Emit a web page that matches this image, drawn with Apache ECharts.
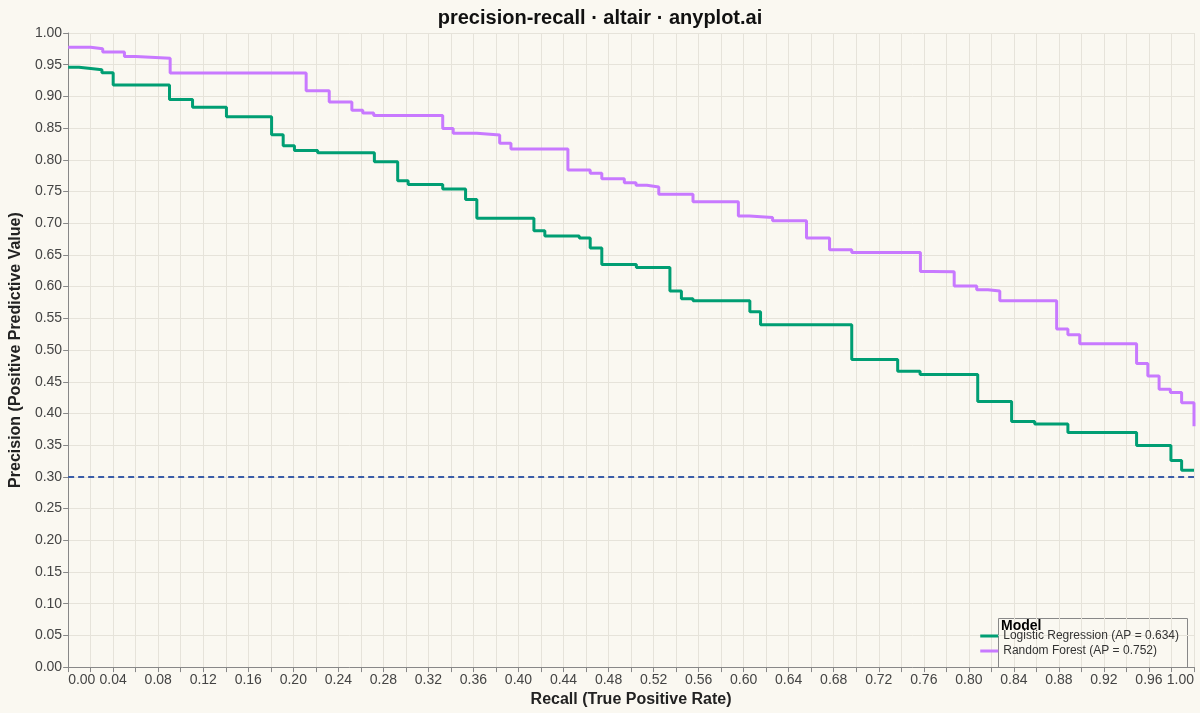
<!DOCTYPE html>
<html><head><meta charset="utf-8">
<script src="https://cdn.jsdelivr.net/npm/echarts@6/dist/echarts.min.js"></script>
<style>html,body{margin:0;padding:0;background:#FAF8F1}#c{width:1200px;height:713px}</style>
</head><body><div id="c"></div>
<script>
const lrRecall = [0,0.0096,0.020,0.030,0.040,0.090,0.1105,0.1406,0.1807,0.191,0.201,0.2216,0.272,0.2927,0.302,0.3327,0.353,0.363,0.4137,0.4234,0.454,0.4637,0.474,0.5047,0.5345,0.5447,0.555,0.6055,0.615,0.696,0.7368,0.7567,0.8079,0.838,0.8585,0.888,0.949,0.9795,0.989,1.0];
const lrPrecision = [0.946,0.944,0.942,0.9375,0.918,0.895,0.883,0.868,0.8396,0.822,0.8146,0.811,0.797,0.767,0.761,0.754,0.7375,0.708,0.688,0.680,0.6766,0.661,0.635,0.630,0.593,0.581,0.5776,0.5604,0.540,0.485,0.4667,0.4615,0.4188,0.3875,0.3833,0.370,0.3495,0.326,0.3104,0.3104];
const rfRecall = [0,0.020,0.0307,0.050,0.060,0.0906,0.2114,0.2319,0.252,0.2617,0.2714,0.3327,0.342,0.363,0.3833,0.3933,0.4439,0.4637,0.474,0.494,0.5044,0.514,0.5246,0.555,0.5953,0.605,0.6257,0.6558,0.6763,0.696,0.757,0.767,0.787,0.807,0.817,0.8275,0.878,0.888,0.8985,0.949,0.959,0.969,0.979,0.989,1.0,1.0];
const rfPrecision = [0.9776,0.975,0.970,0.963,0.960,0.937,0.909,0.891,0.878,0.874,0.870,0.8495,0.842,0.839,0.826,0.817,0.784,0.779,0.770,0.764,0.760,0.757,0.7458,0.734,0.7115,0.709,0.704,0.6766,0.6583,0.654,0.624,0.6234,0.601,0.595,0.593,0.5776,0.533,0.524,0.510,0.4786,0.459,0.438,0.433,0.417,0.417,0.380];
const baseline = 0.30;
const seriesNames = ['Logistic Regression (AP = 0.634)','Random Forest (AP = 0.752)'];
const zip = (a,b)=>a.map((v,i)=>[v,b[i]]);
const chart = echarts.init(document.getElementById('c'));
const font = 'Liberation Sans, Arial, sans-serif';
chart.setOption({
  backgroundColor:'#FAF8F1',
  animation:false,
  title:{text:'precision-recall · altair · anyplot.ai',left:'center',top:3,textStyle:{fontFamily:font,fontSize:20,fontWeight:'bold',color:'#111'}},
  grid:{left:54,right:6,top:33,bottom:40},
  xAxis:{type:'value',min:0,max:1,interval:0.02,
    name:'Recall (True Positive Rate)',nameLocation:'middle',nameGap:23,
    nameTextStyle:{fontFamily:font,fontSize:16,fontWeight:'bold',color:'#222'},
    axisLine:{lineStyle:{color:'#888'}},axisTick:{lineStyle:{color:'#888'},length:5},
    axisLabel:{fontFamily:font,fontSize:14,color:'#444',margin:6,alignMinLabel:'left',alignMaxLabel:'right',showMinLabel:true,showMaxLabel:true,hideOverlap:false,
      formatter:v=>{const k=Math.round(v*50);return k%2===0?(k/50).toFixed(2):'';}},
    splitLine:{show:true,lineStyle:{color:'#E6E3DA',width:1}}},
  yAxis:{type:'value',min:0,max:1,interval:0.05,
    name:'Precision (Positive Predictive Value)',nameLocation:'middle',nameGap:38,
    nameTextStyle:{fontFamily:font,fontSize:16,fontWeight:'bold',color:'#222'},
    axisLine:{show:true,lineStyle:{color:'#888'}},axisTick:{show:true,lineStyle:{color:'#888'},length:5},
    axisLabel:{fontFamily:font,fontSize:14,color:'#444',margin:6,formatter:v=>v.toFixed(2)},
    splitLine:{show:true,lineStyle:{color:'#E6E3DA',width:1}}},
  legend:{orient:'vertical',right:16,top:625,itemWidth:18,itemHeight:3,itemGap:3,
    data:seriesNames,icon:'rect',
    textStyle:{fontFamily:font,fontSize:12,color:'#333'}},
  graphic:[
    {type:'rect',left:998,top:618,shape:{width:189,height:49},style:{fill:'#FAF8F1',stroke:'#888',lineWidth:1},z:0},
    {type:'text',left:1001,top:619,style:{text:'Model',fontFamily:font,fontSize:14,fontWeight:'bold',fill:'#000'},z:10}
  ],
  series:[
    {name:seriesNames[0],type:'line',step:'end',data:zip(lrRecall,lrPrecision),showSymbol:false,
      lineStyle:{color:'#009E73',width:3},itemStyle:{color:'#009E73'},z:3,
      markLine:{silent:true,symbol:'none',label:{show:false},lineStyle:{color:'#3A5DA8',type:[6,4],width:2},data:[{yAxis:baseline}]}},
    {name:seriesNames[1],type:'line',step:'end',data:zip(rfRecall,rfPrecision),showSymbol:false,
      lineStyle:{color:'#C879FF',width:3},itemStyle:{color:'#C879FF'},z:3}
  ]
});
</script></body></html>
